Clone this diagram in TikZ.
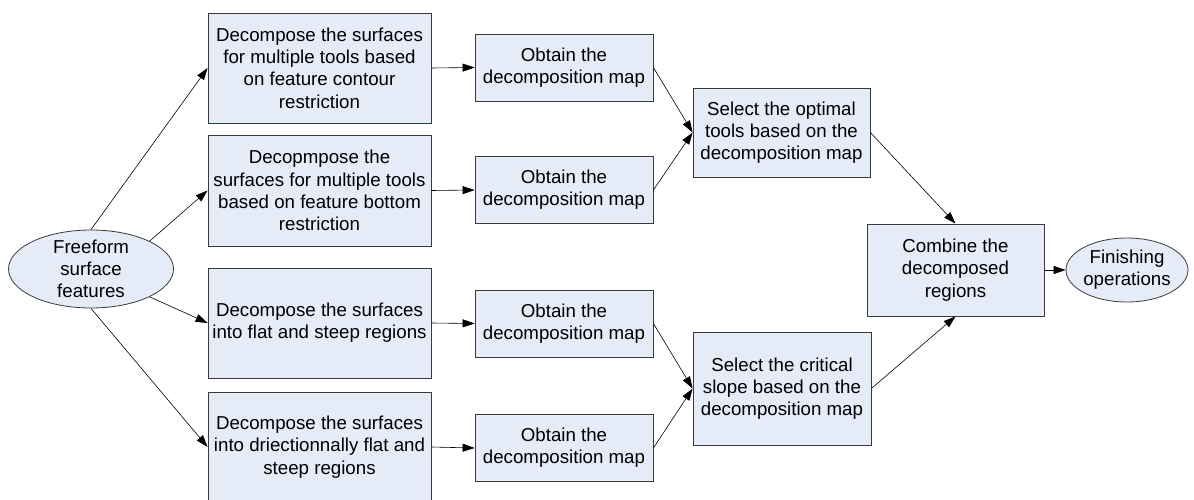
\documentclass[tikz,border=0pt]{standalone}
\usepackage{fontspec}
\setmainfont{Liberation Sans}
\usetikzlibrary{arrows.meta,shapes.geometric}
\definecolor{boxfill}{HTML}{E5EBF7}
\definecolor{edgegray}{HTML}{3A3A3A}
\begin{document}
\begin{tikzpicture}[x=1pt,y=-1pt,
  every node/.style={font=\fontsize{18.7}{22.3}\selectfont},
  box/.style={rectangle, draw=edgegray, fill=boxfill, line width=0.8pt, inner sep=0pt, align=center},
  bigbox/.style={box, minimum width=223pt, minimum height=110pt},
  mapbox/.style={box, minimum width=178pt, minimum height=67pt},
  ellshape/.style={ellipse, draw=edgegray, fill=boxfill, line width=0.8pt, inner sep=0pt},
  lbl/.style={align=center, inner sep=0pt},
  conn/.style={-{Triangle[length=12pt,width=8pt]}, line width=0.6pt, black},
]
\useasboundingbox (0,0) rectangle (1194,500);

% source ellipse
\node[ellshape, minimum width=165pt, minimum height=78pt] (ell) at (91,269) {};
\node[lbl] (elltext) at (ell.center) {Freeform\\surface\\features};

% decomposition boxes
\node[bigbox] (b1) at (319.5,68) {Decompose the surfaces\\for multiple tools based\\on feature contour\\restriction};
\node[bigbox, minimum height=111pt] (b2) at (319.5,190.5) {Decopmpose the\\surfaces for multiple tools\\based on feature bottom\\restriction};
\node[bigbox] (b3) at (319.5,323) {Decompose the surfaces\\into flat and steep regions};
\node[bigbox] (b4) at (319.5,447) {Decompose the surfaces\\into driectionnally flat and\\steep regions};

% map boxes
\node[mapbox] (o1) at (564,67.5) {Obtain the\\decomposition map};
\node[mapbox] (o2) at (564,190) {Obtain the\\decomposition map};
\node[mapbox] (o3) at (564,323.5) {Obtain the\\decomposition map};
\node[mapbox] (o4) at (564,448) {Obtain the\\decomposition map};

% selection boxes
\node[box, minimum width=177pt, minimum height=89pt] (s1) at (781.5,132.5) {Select the optimal\\tools based on the\\decomposition map};
\node[box, minimum width=178pt, minimum height=113pt] (s2) at (782,388.5) {Select the critical\\slope based on the\\decomposition map};

% combine
\node[box, minimum width=177pt, minimum height=92pt] (comb) at (955.5,270) {Combine the\\decomposed\\regions};

% finishing ellipse
\node[ellshape, minimum width=122pt, minimum height=64pt] (fin) at (1127,270) {};
\node[lbl] (fintext) at (fin.center) {Finishing\\operations};

% connectors
\draw[conn] (ell.north) -- (b1.west);
\draw[conn] (ell.north east) -- (b2.west);
\draw[conn] (ell.south east) -- (b3.west);
\draw[conn] (ell.south) -- (b4.west);

\draw[conn] (b1.east) -- (o1.west);
\draw[conn] (b2.east) -- (o2.west);
\draw[conn] (b3.east) -- (o3.west);
\draw[conn] (b4.east) -- (o4.west);

\draw[conn] (o1.east) -- (s1.west);
\draw[conn] (o2.east) -- (s1.west);
\draw[conn] (o3.east) -- (s2.west);
\draw[conn] (o4.east) -- (s2.west);

\draw[conn] (s1.east) -- (comb.north);
\draw[conn] (s2.east) -- (comb.south);
\draw[conn] (comb.east) -- (fin.west);
\end{tikzpicture}
\end{document}
